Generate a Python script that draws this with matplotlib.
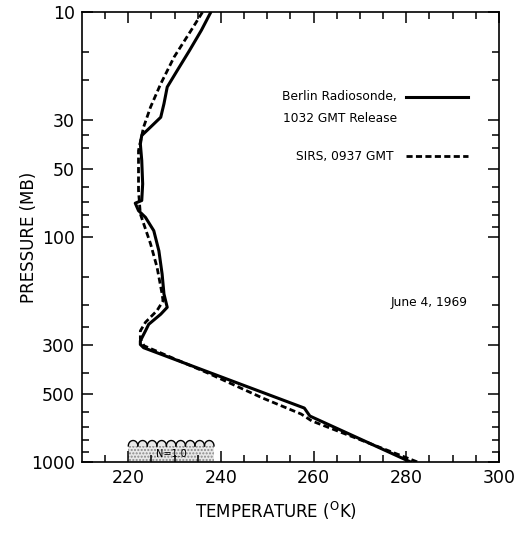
import numpy as np
import matplotlib.pyplot as plt
from matplotlib.ticker import FixedLocator, NullFormatter
import matplotlib.transforms as mtransforms

# Berlin radiosonde (solid) - pressure (mb) and temperature (K)
radio_p = [10, 12.0, 14.8, 18.1, 21.5, 25.5, 29.3, 32.4, 35.3, 38.5, 45.6, 58, 68.7, 70.6, 76.2,
           81.6, 93.6, 115, 146, 179, 205, 220, 244, 261, 289, 300, 310, 450, 575, 624, 1000]
radio_t = [237.8, 235.8, 233.2, 230.6, 228.4, 227.7, 227.0, 224.8, 222.9, 222.6, 222.9, 223.1, 222.9, 221.5, 222.2,
           223.7, 225.5, 226.6, 227.3, 227.7, 228.4, 227.0, 224.4, 223.7, 222.6, 222.6, 223.3, 244.2, 258.0, 259.2, 281.0]

# SIRS retrieval (dashed)
sirs_p = [10, 12.0, 15.8, 20.8, 26.4, 32.4, 41.2, 50.6, 62, 78.9, 107, 136, 179, 192, 212,
          239, 261, 284, 304, 402, 519, 611, 656, 1000]
sirs_t = [236.0, 233.6, 229.9, 227.0, 224.8, 223.3, 222.2, 222.2, 222.2, 222.6, 224.8, 226.2, 227.3, 227.5, 226.2,
          223.7, 222.6, 222.6, 223.4, 237.2, 249.0, 257.3, 259.6, 282.5]

x_ticks = [220, 240, 260, 280, 300]
y_ticks = [10, 30, 50, 100, 300, 500, 1000]
y_minor = [15, 20, 35, 40, 60, 70, 80, 90, 150, 200, 250, 400, 600, 700, 800, 900]
cloud_range = [220, 238.5]   # cloud layer N=1.0 extent (K)

plt.rcParams['font.family'] = 'DejaVu Sans'

fig = plt.figure(figsize=(5.29, 5.33), dpi=100)
ax = fig.add_axes([0.155, 0.133, 0.788, 0.844])

ax.plot(radio_t, radio_p, color='black', lw=2.2, solid_capstyle='round', solid_joinstyle='round')
ax.plot(sirs_t, sirs_p, color='black', lw=2.0, dashes=(2.2, 1.2))

ax.set_yscale('log')
ax.set_ylim(1000, 10)
ax.set_xlim(210, 300)

ax.yaxis.set_major_locator(FixedLocator(y_ticks))
ax.yaxis.set_minor_locator(FixedLocator(y_minor))
ax.yaxis.set_minor_formatter(NullFormatter())
ax.set_yticklabels([str(v) for v in y_ticks])
ax.xaxis.set_major_locator(FixedLocator(x_ticks))
ax.xaxis.set_minor_locator(FixedLocator(np.arange(215, 300, 5)))
ax.set_xticklabels([str(v) for v in x_ticks])

ax.tick_params(which='both', direction='in', top=True, right=True, labelsize=12.5, width=1.1)
ax.tick_params(which='major', length=8, pad=5)
ax.tick_params(which='minor', length=5)
for s in ax.spines.values():
    s.set_linewidth(1.2)

fig.text(0.055, 0.555, 'PRESSURE (MB)', rotation=90, ha='center', va='center', fontsize=12)
fig.text(0.522, 0.02, r'TEMPERATURE ($^{\mathregular{O}}$K)', ha='center', va='bottom', fontsize=12)

# legend drawn as in the original
leg_fs = 8.8
ax.text(0.755, 0.812, 'Berlin Radiosonde,', transform=ax.transAxes, ha='right', va='center', fontsize=leg_fs)
ax.text(0.755, 0.763, '1032 GMT Release', transform=ax.transAxes, ha='right', va='center', fontsize=leg_fs)
ax.plot([0.777, 0.926], [0.812, 0.812], transform=ax.transAxes, color='black', lw=2.2)
ax.text(0.748, 0.68, 'SIRS, 0937 GMT', transform=ax.transAxes, ha='right', va='center', fontsize=leg_fs)
ax.plot([0.777, 0.926], [0.68, 0.68], transform=ax.transAxes, color='black', lw=2.0, dashes=(2.2, 1.2))
ax.text(0.925, 0.355, 'June 4, 1969', transform=ax.transAxes, ha='right', va='center', fontsize=leg_fs)

# cloud symbol near the ground
trans = mtransforms.blended_transform_factory(ax.transData, ax.transAxes)
ax.fill_between(cloud_range, 0, 0.036, transform=trans, facecolor='#e8e8e8', hatch='.....',
                edgecolor='#888888', lw=0)
n_bumps = 9
edges = np.linspace(cloud_range[0], cloud_range[1], n_bumps + 1)
for a, b in zip(edges[:-1], edges[1:]):
    t = np.linspace(0, np.pi, 30)
    xs = (a + b) / 2 + (b - a) / 2 * np.cos(t)
    ys = 0.036 + 0.012 * np.sin(t)
    ax.plot(xs, ys, transform=trans, color='black', lw=1.0)
    ax.fill_between(xs, 0.036, ys, transform=trans, facecolor='#e8e8e8', lw=0)
ax.text(np.mean(cloud_range), 0.018, 'N=1.0', transform=trans, ha='center', va='center', fontsize=7)

fig.savefig('out.png', dpi=100)
